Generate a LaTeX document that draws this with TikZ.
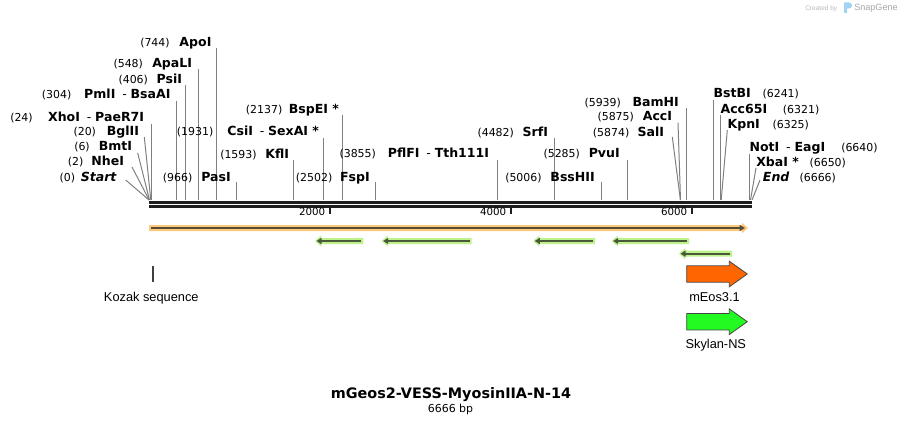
\documentclass[tikz,border=0pt]{standalone}
\usepackage{fontspec}
\setmainfont{DejaVu Sans}
\newfontfamily\featfont{Liberation Sans}
\definecolor{cutgray}{RGB}{128,128,128}
\definecolor{bbone}{RGB}{30,30,30}
\definecolor{orband}{RGB}{253,202,122}
\definecolor{ordark}{RGB}{88,76,56}
\definecolor{grband}{RGB}{190,243,140}
\definecolor{grdark}{RGB}{74,88,60}
\definecolor{eosfill}{RGB}{255,102,0}
\definecolor{skyfill}{RGB}{34,250,34}
\definecolor{featline}{RGB}{70,70,70}
\definecolor{wmgray}{RGB}{185,185,185}
\definecolor{wmblue}{RGB}{160,212,240}
\newcommand\enzdash{\hspace{0.55em}{\mdseries -}\hspace{0.3em}}
\newcommand\siteL[9]{%
  \node[enzR] (e#1) at (#3,#6+4.5) {#2};
  \node[numtxt] (n#1) at (#5,#6+4.5) {#4};
  \coordinate (t#1) at (#7,#8);
  \coordinate (b#1) at (#9,200);
  \draw[cut] (t#1) -- (b#1);}
\newcommand\siteR[9]{%
  \node[enzL] (e#1) at (#3,#6+4.5) {#2};
  \node[numtxt] (n#1) at (#5,#6+4.5) {#4};
  \coordinate (t#1) at (#7,#8);
  \coordinate (b#1) at (#9,200);
  \draw[cut] (t#1) -- (b#1);}
\newcommand\leftarr[4]{% id, tip x, tail x, y
  \fill[grband] (#3,#4-3) -- (#2+6,#4-3) -- (#2+6,#4-5.5) -- (#2,#4) -- (#2+6,#4+5.5) -- (#2+6,#4+3) -- (#3,#4+3) -- cycle;
  \coordinate (ga#1) at (#2+5,#4);
  \coordinate (gb#1) at (#3-2,#4);
  \draw[grdark, line width=1.7pt] (ga#1) -- (gb#1);
  \fill[grdark] (#2+6.5,#4-3.2) -- (#2+1.5,#4) -- (#2+6.5,#4+3.2) -- cycle;}
\tikzset{
  numtxt/.style={inner sep=0pt, anchor=base west, font=\fontsize{8.2}{9}\selectfont},
  enzR/.style={inner sep=0pt, anchor=base east, font=\fontsize{9.4}{10}\selectfont\bfseries},
  enzL/.style={inner sep=0pt, anchor=base west, font=\fontsize{9.4}{10}\selectfont\bfseries},
  cut/.style={draw=cutgray, line width=0.75pt},
  ticklab/.style={inner sep=0pt, anchor=base east, font=\fontsize{7.7}{9}\selectfont},
  featlab/.style={inner sep=0pt, anchor=base, font=\featfont\fontsize{9.6}{11}\selectfont},
  featarrow/.style={draw=featline, line width=0.6pt},
}
\begin{document}
\begin{tikzpicture}[x=0.75pt,y=-0.75pt]
\fill[white] (0,0) rectangle (902,424);
\path[use as bounding box] (0,0) rectangle (902,424);

% watermark
\node[inner sep=0pt, anchor=base west, text=wmgray, font=\featfont\fontsize{4.9}{6}\selectfont] (wm1) at (805,10.3) {Created by};
\fill[wmblue] (844,2.5) -- (849,2.5) .. controls (853,2.5) and (853,8.5) .. (849,8.5) -- (847,8.5) -- (847,13) -- (844,13) -- cycle;
\node[inner sep=0pt, anchor=base west, text=wmgray!90!black, font=\featfont\fontsize{6.8}{8}\selectfont] (wm2) at (854,10.8) {SnapGene};

% cut sites (left-labelled)
\siteL{apo}{ApoI}{211.7}{(744)}{140}{42.3}{216.3}{48}{216.3}
\siteL{apa}{ApaLI}{192.3}{(548)}{113.3}{63.3}{198.6}{69}{198.6}
\siteL{psi}{PsiI}{182.3}{(406)}{118.3}{78.8}{185.7}{85}{185.7}
\siteL{pml}{PmlI\enzdash BsaAI}{170.7}{(304)}{41.7}{94}{176.5}{101}{176.5}
\siteL{xho}{XhoI\enzdash PaeR7I}{144.3}{(24)}{10}{117}{151.2}{124}{151.2}
\siteL{bgl}{BglII}{139.3}{(20)}{73.3}{131}{144.3}{137}{150.8}
\siteL{bmt}{BmtI}{132.3}{(6)}{74}{146.5}{137.7}{153}{149.5}
\siteL{nhe}{NheI}{124.3}{(2)}{67.7}{161.5}{132}{167}{149.2}
\siteL{start}{\itshape Start}{116.7}{(0)}{59.3}{176.7}{125.7}{180}{149}
\siteL{pas}{PasI}{231}{(966)}{162.7}{176.7}{236.4}{182}{236.4}
\siteL{kfl}{KflI}{289.3}{(1593)}{220}{154}{293.1}{160}{293.1}
\siteL{csi}{CsiI\enzdash SexAI *}{319.3}{(1931)}{176.7}{131}{323.7}{138}{323.7}
\siteL{bsp}{BspEI *}{339.3}{(2137)}{245.7}{108.7}{342.3}{115}{342.3}
\siteL{fsp}{FspI}{370}{(2502)}{295.7}{176.7}{375.3}{182}{375.3}
\siteL{pfl}{PflFI\enzdash Tth111I}{489.3}{(3855)}{339.3}{153.3}{497.7}{160}{497.7}
\siteL{srf}{SrfI}{548.3}{(4482)}{477.3}{132}{554.4}{138}{554.4}
\siteL{bss}{BssHII}{595}{(5006)}{505}{176.7}{601.8}{182}{601.8}
\siteL{pvu}{PvuI}{620}{(5285)}{543.3}{153.3}{627.1}{160}{627.1}
\siteL{sal}{SalI}{664.3}{(5874)}{592.7}{131.7}{672.3}{137}{680.4}
\siteL{acc}{AccI}{672.3}{(5875)}{597.3}{116}{678}{122.7}{680.5}
\siteL{bam}{BamHI}{679}{(5939)}{584.3}{101.7}{686.2}{108}{686.2}
% cut sites (right-labelled)
\siteR{bst}{BstBI}{713.3}{(6241)}{762.3}{93.3}{713.6}{100}{713.6}
\siteR{accsf}{Acc65I}{720.3}{(6321)}{782.7}{109.3}{720.8}{115}{720.8}
\siteR{kpn}{KpnI}{727.3}{(6325)}{772.3}{124}{727.3}{130}{721.2}
\siteR{not}{NotI\enzdash EagI}{749.3}{(6640)}{841}{146.7}{749.6}{154}{749.6}
\siteR{xba}{XbaI *}{756}{(6650)}{809.3}{161.7}{756}{168}{750.5}
\siteR{end}{\itshape End}{762.7}{(6666)}{799.3}{176.7}{760}{180}{752}

% backbone
\fill[bbone] (149,201) rectangle (752.3,204);
\fill[bbone] (149,205) rectangle (752.3,207.8);
% ticks
\foreach \x/\lab in {330/2000,511/4000,692/6000}{
  \draw[bbone, line width=1.3pt] (\x,207.5) -- (\x,214.2);
  \node[ticklab] (tick\lab) at (\x-4.5,215.3) {\lab};
}

% main orange feature
\fill[orband] (149,225) -- (742,225) -- (742,222.8) -- (748,228) -- (742,233.2) -- (742,231) -- (149,231) -- cycle;
\coordinate (oa) at (151,228);
\coordinate (ob) at (741,228);
\draw[ordark, line width=1.7pt] (oa) -- (ob);
\fill[ordark] (739.5,224.8) -- (745,228) -- (739.5,231.2) -- cycle;

% green primer-like arrows
\leftarr{1}{315}{363.3}{241}
\leftarr{2}{381.7}{471.7}{241}
\leftarr{3}{533.3}{595}{241}
\leftarr{4}{611.7}{689}{241}
\leftarr{5}{679}{732}{253.7}

% Kozak sequence
\fill[bbone!85] (152,266) rectangle (154,281.7);
\node[featlab] (koz) at (151.3,301) {Kozak sequence};

% mEos3.1
\filldraw[featarrow, fill=eosfill] (686.7,265.8) -- (729.3,265.8) -- (729.3,261.2) -- (747.3,274) -- (729.3,286.8) -- (729.3,282.2) -- (686.7,282.2) -- cycle;
\node[featlab] (eos) at (714.5,301.3) {mEos3.1};

% Skylan-NS
\filldraw[featarrow, fill=skyfill] (686.7,313.5) -- (729.3,313.5) -- (729.3,308.9) -- (747.3,321.7) -- (729.3,334.5) -- (729.3,329.9) -- (686.7,329.9) -- cycle;
\node[featlab] (sky) at (715.8,348) {Skylan-NS};

% title
\node[inner sep=0pt, anchor=base, font=\fontsize{10.8}{12}\selectfont\bfseries] (title) at (451,398.3) {mGeos2-VESS-MyosinIIA-N-14};
\node[inner sep=0pt, anchor=base, font=\fontsize{8.2}{9}\selectfont] (bp) at (450.5,412) {6666 bp};
\end{tikzpicture}
\end{document}
